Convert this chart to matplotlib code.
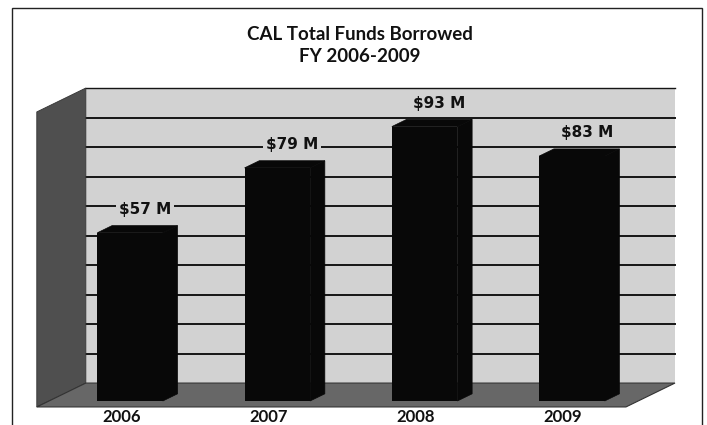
import matplotlib
matplotlib.use("Agg")
import matplotlib.pyplot as plt
from matplotlib.patches import Polygon, Rectangle

years = ["2006", "2007", "2008", "2009"]
borrowed = [57, 79, 93, 83]          # $ millions
value_labels = ["$57 M", "$79 M", "$93 M", "$83 M"]
grid_values = [10, 20, 30, 40, 50, 60, 70, 80, 90, 100]

# pseudo-3D geometry (data units)
DX, DY = 0.333, 8.1      # shift per unit of depth
D_FRONT, D_WALL = -0.25, 0.75
D_BAR = 0.3
XL, XR = -0.55, 3.45
BAR_W = 0.445

WALL_C = "#d2d2d2"
SIDE_C = "#4f4f4f"
FLOOR_C = "#676767"
BAR_C = "#080808"
LINE_C = "#151515"

fig = plt.figure(figsize=(7.07, 4.25), dpi=100)
ax = fig.add_axes([0, 0, 1, 1])
ax.set_xlim(-0.883, 3.917)
ax.set_ylim(-8.14, 135.9)
ax.axis("off")


def shift(x, v, d):
    return (x + d * DX, v + d * DY)


# back wall
bl = shift(XL, 0, D_WALL)
ax.add_patch(Rectangle(bl, XR - XL, 100, facecolor=WALL_C, edgecolor="none", zorder=1))
for g in grid_values:
    x0, y0 = shift(XL, g, D_WALL)
    x1, _ = shift(XR, g, D_WALL)
    ax.plot([x0, x1], [y0, y0], color=LINE_C, lw=1.4 if g < 100 else 1.0, zorder=2)

# left side wall
ax.add_patch(Polygon([shift(XL, 0, D_FRONT), shift(XL, 0, D_WALL),
                      shift(XL, 100, D_WALL), shift(XL, 100, D_FRONT)],
                     closed=True, facecolor=SIDE_C, edgecolor="#333333", lw=0.6, zorder=3))

# floor
ax.add_patch(Polygon([shift(XL, 0, D_FRONT), shift(XR, 0, D_FRONT),
                      shift(XR, 0, D_WALL), shift(XL, 0, D_WALL)],
                     closed=True, facecolor=FLOOR_C, edgecolor="#333333", lw=0.8, zorder=3))

# bars: front face + top + right side
bdx, bdy = D_BAR * DX, D_BAR * DY
for i, h in enumerate(borrowed):
    x0, x1 = i - BAR_W / 2, i + BAR_W / 2
    ax.bar(i, h, width=BAR_W, bottom=0, color=BAR_C, zorder=4)
    ax.add_patch(Polygon([(x0, h), (x1, h), (x1 + bdx, h + bdy), (x0 + bdx, h + bdy)],
                         closed=True, facecolor=BAR_C, edgecolor=BAR_C, lw=0.5, zorder=4))
    ax.add_patch(Polygon([(x1, 0), (x1 + bdx, bdy), (x1 + bdx, h + bdy), (x1, h)],
                         closed=True, facecolor=BAR_C, edgecolor=BAR_C, lw=0.5, zorder=4))
    ax.text(i + 0.1, h + bdy + 5.5, value_labels[i], ha="center", va="center",
            fontsize=11, fontweight="bold", family="DejaVu Sans", color="#111111",
            bbox=dict(boxstyle="square,pad=0.2", facecolor=WALL_C, edgecolor="none"),
            zorder=5)
    ax.text(i - 0.06, -5.3, years[i], ha="center", va="center",
            fontsize=12, fontweight="bold", family="Lato", color="#111111", zorder=5)

# outer frame
ax.add_patch(Rectangle((12 / 707, -0.05), 690 / 707, 1.05 - 8 / 425, transform=ax.transAxes,
                       facecolor="none", edgecolor="#222222", lw=1.0, clip_on=False, zorder=6))

fig.text(0.509, 1 - 35 / 425, "CAL Total Funds Borrowed", ha="center", va="center",
         fontsize=13.5, fontweight="bold", family="Lato", color="#111111")
fig.text(0.509, 1 - 57 / 425, "FY 2006-2009", ha="center", va="center",
         fontsize=13.5, fontweight="bold", family="Lato", color="#111111")

fig.savefig("out.png", dpi=100, facecolor="white")
